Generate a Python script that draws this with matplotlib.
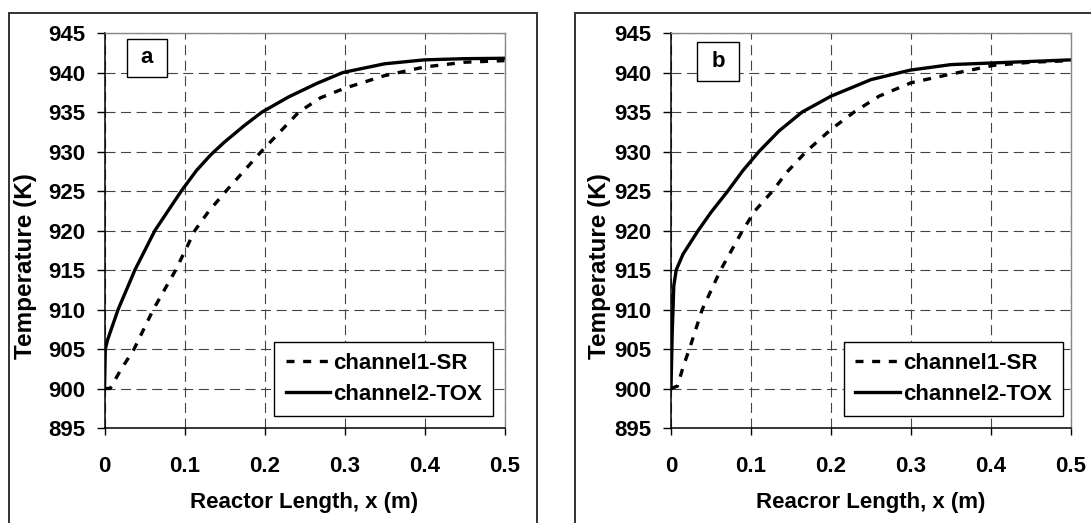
import matplotlib
matplotlib.use('Agg')
import matplotlib.pyplot as plt
from matplotlib.patches import Rectangle

plt.rcParams['font.family'] = ['Liberation Sans', 'DejaVu Sans']
plt.rcParams['font.weight'] = 'bold'
FS = 16

# panel a
xa_sr = [0, 0.007, 0.02, 0.037, 0.061, 0.089, 0.113, 0.13, 0.152, 0.196, 0.243, 0.27, 0.3, 0.35, 0.4, 0.45, 0.5]
ta_sr = [900, 900, 902.3, 905, 910, 915, 920, 922.4, 925, 930, 935, 936.8, 938, 939.6, 940.7, 941.3, 941.5]
xa_tox = [0, 0.001, 0.004, 0.017, 0.038, 0.063, 0.096, 0.115, 0.133, 0.15, 0.175, 0.197, 0.23, 0.265, 0.298, 0.35, 0.4, 0.45, 0.5]
ta_tox = [900, 905, 906.2, 910, 915, 920, 925, 927.6, 929.6, 931.2, 933.3, 935, 936.9, 938.6, 940, 941.1, 941.6, 941.75, 941.8]

# panel b
xb_sr = [0, 0.008, 0.016, 0.023, 0.039, 0.062, 0.0895, 0.105, 0.127, 0.145, 0.169, 0.2, 0.229, 0.26, 0.3, 0.35, 0.403, 0.45, 0.5]
tb_sr = [900, 900.3, 903, 905, 910, 915, 920, 922.5, 925, 927.4, 930, 932.8, 935, 937, 938.7, 939.8, 940.9, 941.3, 941.5]
xb_tox = [0, 0.0015, 0.0035, 0.0065, 0.015, 0.034, 0.05, 0.071, 0.09, 0.11, 0.135, 0.164, 0.2, 0.25, 0.299, 0.35, 0.4, 0.45, 0.5]
tb_tox = [900, 907, 913, 915, 917, 920, 922.3, 925, 927.6, 930, 932.6, 935, 937, 939.1, 940.3, 941, 941.2, 941.4, 941.6]

xticks = [0, 0.1, 0.2, 0.3, 0.4, 0.5]
xticklabels = ['0', '0.1', '0.2', '0.3', '0.4', '0.5']
yticks = [895, 900, 905, 910, 915, 920, 925, 930, 935, 940, 945]

W, H = 1091, 523
fig = plt.figure(figsize=(W / 100, H / 100), dpi=100)

# outer chart-area frames (pixels)
for x0, x1 in [(9, 537), (575, 1100)]:
    fig.add_artist(Rectangle((x0 / W, -0.02), (x1 - x0) / W, (H - 13) / H + 0.02,
                             transform=fig.transFigure, fill=False,
                             ec='#222222', lw=1.3))


def panel(left, xs_sr, ts_sr, xs_tox, ts_tox, tag, tagbox, xlabel, ylabx, legright):
    ax = fig.add_axes([left / W, (H - 428) / H, 400 / W, 395 / H])
    ax.plot(xs_sr, ts_sr, color='black', lw=2.4, ls=(0, (2.4, 2.6)),
            dash_capstyle='butt', label='channel1-SR')
    ax.plot(xs_tox, ts_tox, color='black', lw=2.4, label='channel2-TOX')
    ax.set_xlim(0, 0.5)
    ax.set_ylim(895, 945)
    ax.set_xticks(xticks)
    ax.set_xticklabels(xticklabels)
    ax.set_yticks(yticks)
    ax.grid(True, color='#444444', lw=0.8, ls=(0, (9, 5)))
    ax.tick_params(axis='x', direction='out', length=5, width=1, pad=15, labelsize=FS)
    ax.tick_params(axis='y', direction='out', length=6, width=1, pad=8, labelsize=FS)
    for s in ['left', 'bottom']:
        ax.spines[s].set_color('black')
        ax.spines[s].set_linewidth(1.1)
    for s in ['top', 'right']:
        ax.spines[s].set_color('#888888')
        ax.spines[s].set_linewidth(1.0)
    ax.set_xlabel(xlabel, fontsize=FS, fontweight='bold')
    ax.xaxis.set_label_coords(0.5, -0.163)
    ax.set_ylabel('Temperature (K)', fontsize=17.5, fontweight='bold')
    ax.yaxis.set_label_coords(ylabx, 0.41)
    bx0, bx1, by0, by1 = tagbox
    ax.add_patch(Rectangle((bx0, by0), bx1 - bx0, by1 - by0, transform=ax.transAxes,
                           fill=True, fc='white', ec='black', lw=1.0, zorder=5))
    ax.text((bx0 + bx1) / 2, (by0 + by1) / 2, tag, transform=ax.transAxes,
            ha='center', va='center', fontsize=FS, fontweight='bold', zorder=6)
    leg = ax.legend(loc='lower right', bbox_to_anchor=(legright, 0.03),
                    fontsize=FS, frameon=True, fancybox=False, framealpha=1,
                    edgecolor='black', handlelength=2.0, handletextpad=0.15,
                    borderpad=0.5, labelspacing=0.45, borderaxespad=0)
    leg.get_frame().set_linewidth(1.0)
    return ax


panel(104.5, xa_sr, ta_sr, xa_tox, ta_tox, 'a', (0.055, 0.157, 0.889, 0.985),
      'Reactor Length, x (m)', -0.169, 0.972)
panel(671, xb_sr, tb_sr, xb_tox, tb_tox, 'b', (0.065, 0.170, 0.878, 0.976),
      'Reacror Length, x (m)', -0.15, 0.98)

fig.savefig('out.png', dpi=100)
